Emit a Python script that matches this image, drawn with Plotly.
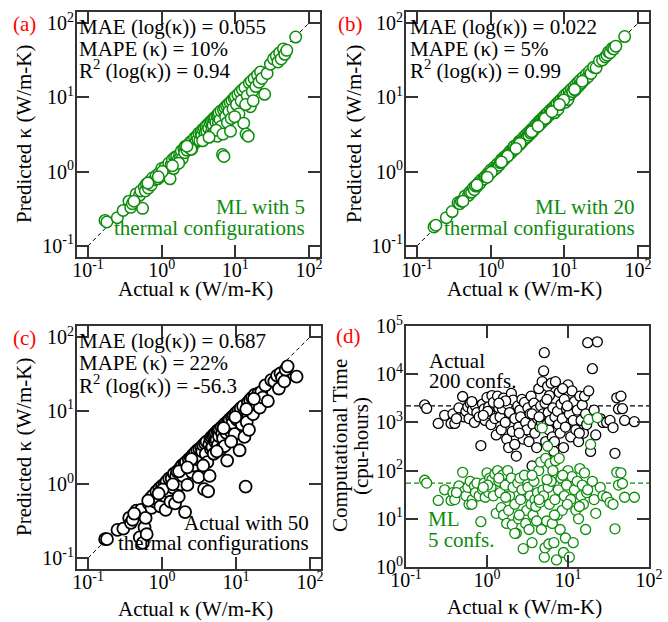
import plotly.graph_objects as go

# ---------------- data ----------------
kappa = [0.17, 0.18, 0.25, 0.30, 0.36, 0.38, 0.40, 0.45, 0.50, 0.52,
         0.55, 0.58, 0.60, 0.62, 0.66, 0.70, 0.72, 0.75, 0.80, 0.84,
         0.88, 0.92, 0.95, 1.00, 1.05, 1.08, 1.12, 1.15, 1.20, 1.25,
         1.30, 1.35, 1.40, 1.45, 1.50, 1.55, 1.60, 1.68, 1.75, 1.80,
         1.85, 1.90, 2.00, 2.05, 2.10, 2.20, 2.30, 2.40, 2.45, 2.55,
         2.60, 2.70, 2.80, 2.90, 3.00, 3.10, 3.20, 3.30, 3.40, 3.50,
         3.60, 3.70, 3.80, 3.90, 4.00, 4.10, 4.20, 4.35, 4.50, 4.60,
         4.70, 4.80, 4.90, 5.00, 5.10, 5.20, 5.30, 5.45, 5.60, 5.70,
         5.80, 5.90, 6.00, 6.20, 6.40, 6.50, 6.70, 6.90, 7.00, 7.20,
         7.40, 7.60, 7.80, 8.00, 8.20, 8.50, 8.80, 9.00, 9.30, 9.60,
         10.0, 10.4, 10.8, 11.2, 11.6, 12.0, 12.5, 13.0, 13.5, 14.0,
         14.5, 15.0, 15.5, 16.0, 16.5, 17.0, 18.0, 19.0, 20.0, 21.0,
         22.0, 23.0, 25.0, 27.0, 30.0, 33.0, 36.0, 38.0, 40.0, 42.0,
         45.0, 47.0, 50.0, 66.0, 0.42, 0.65, 1.02, 1.70, 2.50, 3.60,
         5.50, 6.80, 9.80, 13.8, 17.5, 0.90, 1.40, 2.20, 4.40, 8.60]

pred_ml5 = [0.22, 0.21, 0.24, 0.30, 0.40, 0.33, 0.37, 0.50, 0.48, 0.55,
            0.32, 0.62, 0.55, 0.68, 0.60, 0.75, 0.66, 0.82, 0.78, 0.88,
            0.80, 0.95, 0.85, 1.10, 1.00, 0.95, 1.15, 1.05, 0.90, 1.30,
            0.80, 1.25, 1.45, 1.10, 1.55, 1.35, 1.60, 1.45, 1.70, 1.55,
            1.90, 1.50, 2.05, 1.80, 2.20, 1.95, 2.30, 2.10, 2.50, 2.00,
            2.60, 2.30, 2.85, 2.50, 3.00, 2.70, 3.30, 2.60, 3.40, 3.10,
            3.70, 2.70, 3.80, 3.30, 4.10, 3.50, 4.30, 3.80, 4.60, 3.20,
            4.80, 4.00, 5.00, 4.20, 5.20, 3.40, 5.40, 4.60, 5.70, 3.00,
            5.90, 4.50, 6.20, 5.00, 6.60, 4.10, 1.70, 6.80, 1.60, 7.30,
            5.50, 7.70, 4.60, 8.10, 6.50, 8.60, 5.20, 9.10, 7.00, 9.80,
            10.2, 8.00, 10.9, 6.00, 11.8, 9.00, 12.7, 4.50, 13.6, 3.20,
            10.5, 3.00, 15.6, 7.50, 16.6, 12.0, 18.0, 14.0, 20.0, 16.0,
            22.0, 18.0, 11.0, 21.0, 28.0, 33.0, 36.0, 30.0, 40.0, 33.0,
            45.0, 38.0, 43.0, 65.0, 0.40, 0.70, 1.00, 1.30, 2.00, 2.60,
            3.60, 3.20, 5.50, 8.00, 9.00, 0.85, 1.20, 2.20, 2.90, 3.50]

pred_ml20 = [0.18, 0.19, 0.24, 0.29, 0.38, 0.37, 0.40, 0.47, 0.48, 0.53,
             0.53, 0.60, 0.57, 0.64, 0.64, 0.72, 0.70, 0.78, 0.79, 0.86,
             0.86, 0.95, 0.92, 1.05, 1.02, 1.04, 1.15, 1.10, 1.12, 1.28,
             1.22, 1.32, 1.45, 1.38, 1.55, 1.48, 1.62, 1.60, 1.78, 1.72,
             1.90, 1.80, 2.05, 1.95, 2.20, 2.10, 2.35, 2.25, 2.55, 2.40,
             2.65, 2.55, 2.90, 2.75, 3.10, 2.90, 3.30, 3.10, 3.50, 3.30,
             3.70, 3.45, 3.90, 3.70, 4.15, 3.90, 4.35, 4.10, 4.70, 4.30,
             4.90, 4.50, 5.05, 4.70, 5.30, 4.85, 5.50, 5.10, 5.80, 5.20,
             6.00, 5.50, 6.20, 5.80, 6.70, 6.00, 6.50, 7.10, 6.60, 7.40,
             6.20, 7.80, 7.30, 8.30, 6.90, 8.80, 8.10, 9.30, 8.50, 9.90,
             10.5, 8.60, 11.2, 9.30, 12.0, 11.0, 12.9, 11.9, 13.9, 12.5,
             15.0, 13.6, 16.0, 14.5, 17.1, 15.5, 18.5, 17.5, 20.5, 19.0,
             22.5, 21.0, 25.5, 25.0, 31.0, 32.0, 35.0, 37.0, 41.0, 40.0,
             46.0, 45.0, 49.0, 66.0, 0.40, 0.66, 0.98, 1.62, 2.40, 3.45,
             5.20, 6.40, 9.20, 12.8, 16.5, 0.84, 1.35, 2.05, 4.10, 8.00]

actual_50 = [0.18, 0.18, 0.24, 0.25, 0.35, 0.30, 0.33, 0.44, 0.19, 0.45,
             0.16, 0.26, 0.35, 0.21, 0.55, 0.65, 0.48, 0.70, 0.58, 0.80,
             0.62, 0.88, 0.50, 0.95, 0.70, 1.00, 0.45, 1.10, 0.80, 1.20,
             0.58, 1.20, 0.90, 1.40, 0.55, 1.30, 1.50, 0.68, 1.65, 1.00,
             1.80, 1.30, 1.90, 0.42, 2.00, 0.98, 2.20, 1.60, 2.30, 1.45,
             2.50, 1.80, 2.70, 2.20, 2.90, 1.25, 3.00, 2.40, 3.20, 2.80,
             3.40, 0.86, 3.60, 2.60, 3.80, 2.00, 0.80, 3.50, 4.20, 3.00,
             4.40, 3.20, 4.60, 2.60, 4.80, 3.80, 5.00, 4.00, 5.30, 3.40,
             5.40, 4.50, 5.60, 3.00, 6.00, 4.90, 4.20, 6.40, 3.30, 6.70,
             5.00, 2.10, 7.20, 6.00, 7.60, 5.20, 8.20, 6.80, 8.60, 4.80,
             9.30, 7.50, 10.0, 2.90, 10.8, 6.50, 11.5, 4.40, 0.93, 7.00,
             13.0, 5.50, 14.0, 10.0, 15.0, 9.00, 16.5, 12.0, 17.0, 11.0,
             18.0, 15.0, 22.0, 13.5, 26.0, 25.0, 30.0, 20.0, 32.0, 28.0,
             25.0, 36.0, 40.0, 29.0, 0.40, 0.60, 0.85, 1.50, 2.20, 1.80,
             2.80, 5.80, 8.20, 10.5, 14.5, 0.75, 1.00, 1.70, 1.30, 3.80]

time_actual = [2300, 1950, 950, 1400, 950, 1500, 950, 2000, 3450, 1300,
               1700, 2100, 1200, 2500, 1800, 1000, 2200, 1600, 1300, 330,
               2400, 1900, 1100, 3300, 2100, 1500, 900, 3600, 2600, 1200,
               550, 3500, 2000, 1300, 700, 1900, 3200, 1000, 450, 2400,
               300, 1600, 4000, 650, 2900, 1200, 200, 2200, 800, 1800,
               1300, 3000, 450, 2600, 1000, 700, 2000, 400, 1500, 3500,
               125, 900, 2500, 600, 1800, 300, 1200, 5000, 800, 2200,
               1000, 7000, 1500, 11700, 28000, 2500, 400, 900, 5600, 1600,
               700, 3600, 1100, 6500, 500, 2000, 250, 1300, 7000, 75,
               1700, 900, 4200, 600, 2400, 1200, 300, 3000, 800, 1900,
               6000, 1500, 500, 4500, 1100, 2700, 700, 1800, 400, 3500,
               1100, 2300, 600, 3500, 1500, 900, 4500, 250, 13000, 1800,
               550, 47000, 1200, 1000, 1000, 1100, 780, 228, 3240, 1900,
               3500, 1930, 1100, 1035, 1200, 2700, 1700, 2800, 600, 1500,
               3000, 400, 2200, 600, 45000, 1400, 2500, 350, 1300, 5000]

time_ml = [63, 55, 24, 40, 24, 35, 25, 48, 92, 37,
           30, 45, 20, 60, 25, 48, 35, 55, 30, 8.7,
           40, 55, 28, 90, 35, 70, 45, 65, 30, 85,
           13, 100, 60, 35, 17, 80, 12, 50, 8, 100,
           15, 30, 70, 7.5, 45, 20, 5, 55, 10, 70,
           25, 40, 2.4, 80, 8, 15, 45, 6, 30, 20,
           3.2, 12, 60, 25, 18, 9, 35, 100, 22, 150,
           6, 770, 40, 30, 1.6, 2.5, 180, 9, 320, 45,
           3, 20, 140, 60, 8, 100, 3.2, 25, 160, 1.4,
           12, 40, 180, 6, 70, 15, 2, 30, 4, 50,
           100, 1.6, 25, 75, 3.2, 40, 15, 60, 10, 110,
           30, 50, 20, 90, 6, 35, 1150, 350, 60, 25,
           13, 1260, 45, 30, 28, 22, 20, 6.2, 92, 50,
           90, 54, 28, 28, 35, 20, 50, 28, 12, 80,
           65, 12, 20, 18, 40, 45, 70, 5, 25, 80]

mean_time_actual = 2200
mean_time_ml = 55
parity = [0.1, 100]
kappa_span = [0.1, 100]

k_ticks = [0.1, 1, 10, 100]
k_ticktext = ["10<sup>-1</sup>", "10<sup>0</sup>", "10<sup>1</sup>", "10<sup>2</sup>"]
t_ticks = [1, 10, 100, 1000, 10000, 100000]
t_ticktext = ["10<sup>0</sup>", "10<sup>1</sup>", "10<sup>2</sup>",
              "10<sup>3</sup>", "10<sup>4</sup>", "10<sup>5</sup>"]

# ---------------- style ----------------
W, H = 668, 622
FONT = "Liberation Serif"
GREEN = "#0c8c0c"
AX = "#333333"
TS = 21


def px(x):
    return x / W


def py(y):
    return 1 - y / H


fig = go.Figure()


def add(tr, n):
    s = "" if n == 1 else str(n)
    tr.update(xaxis="x" + s, yaxis="y" + s, showlegend=False, hoverinfo="skip")
    fig.add_trace(tr)


# panel a
add(go.Scatter(x=parity, y=parity, mode="lines",
               line=dict(color="black", width=1, dash="4px,3px")), 1)
add(go.Scatter(x=kappa, y=pred_ml5, mode="markers",
               marker=dict(symbol="circle", size=11.5, color="white",
                           line=dict(color=GREEN, width=1.5))), 1)
# panel b
add(go.Scatter(x=parity, y=parity, mode="lines",
               line=dict(color="black", width=1, dash="4px,3px")), 2)
add(go.Scatter(x=kappa, y=pred_ml20, mode="markers",
               marker=dict(symbol="circle", size=11.5, color="white",
                           line=dict(color=GREEN, width=1.5))), 2)
# panel c
add(go.Scatter(x=parity, y=parity, mode="lines",
               line=dict(color="black", width=1, dash="4px,3px")), 3)
add(go.Scatter(x=kappa, y=actual_50, mode="markers",
               marker=dict(symbol="circle", size=12, color="white",
                           line=dict(color="black", width=1.8))), 3)
# panel d
add(go.Scatter(x=kappa_span, y=[mean_time_actual] * 2, mode="lines",
               line=dict(color="black", width=1.2, dash="5px,3px")), 4)
add(go.Scatter(x=kappa_span, y=[mean_time_ml] * 2, mode="lines",
               line=dict(color=GREEN, width=1.2, dash="5px,3px")), 4)
add(go.Scatter(x=kappa, y=time_actual, mode="markers",
               marker=dict(symbol="circle", size=10, color="white",
                           line=dict(color="black", width=1.3))), 4)
add(go.Scatter(x=kappa, y=time_ml, mode="markers",
               marker=dict(symbol="circle", size=10, color="white",
                           line=dict(color=GREEN, width=1.3))), 4)


def axis(domain, rng, tv, tt, anchor, standoff):
    return dict(domain=domain, type="log", range=rng, tickvals=tv, ticktext=tt,
                ticks="inside", ticklen=12, tickwidth=1.6, tickcolor=AX,
                showline=True, linecolor=AX, linewidth=2, mirror="allticks",
                showgrid=False, zeroline=False, anchor=anchor, automargin=False,
                ticklabelstandoff=standoff,
                tickfont=dict(family=FONT, size=20, color="black"))


xa_dom = [px(77), px(320)]
xb_dom = [px(406), px(649)]
ytop_dom = [py(257), py(12)]
ybot_dom = [py(569), py(326)]
R = [-1.15, 2.15]
XS, YS = -6, -3

fig.update_layout(
    width=W, height=H, margin=dict(l=0, r=0, t=0, b=0, pad=0, autoexpand=False),
    paper_bgcolor="white", plot_bgcolor="white",
    xaxis=axis(xa_dom, R, k_ticks, k_ticktext, "y", XS),
    yaxis=axis(ytop_dom, R, k_ticks, k_ticktext, "x", YS),
    xaxis2=axis(xb_dom, R, k_ticks, k_ticktext, "y2", XS),
    yaxis2=axis(ytop_dom, R, k_ticks, k_ticktext, "x2", YS),
    xaxis3=axis([px(77), px(321)], R, k_ticks, k_ticktext, "y3", XS),
    yaxis3=axis(ybot_dom, R, k_ticks, k_ticktext, "x3", YS),
    xaxis4=axis(xb_dom, [-1, 2], k_ticks, k_ticktext, "y4", XS),
    yaxis4=axis([py(567), py(326)], [0, 5], t_ticks, t_ticktext, "x4", YS),
)

anns = []


def txt(x, y, s, color="black", xanchor="left", size=TS, angle=0):
    anns.append(dict(x=px(x), y=py(y), xref="paper", yref="paper", text=s,
                     showarrow=False, xanchor=xanchor, yanchor="middle",
                     textangle=angle,
                     font=dict(family=FONT, size=size, color=color)))


# panel labels
txt(24, 24, "(a)", "red", "center")
txt(350, 24, "(b)", "red", "center")
txt(24, 338, "(c)", "red", "center")
txt(348, 336, "(d)", "red", "center")

# axis titles
for cx, cy in [(195, 289), (524, 289), (195, 609), (524, 607)]:
    txt(cx, cy, "Actual κ (W/m-K)", xanchor="center")
for cx, cy in [(24, 134), (354, 134), (24, 447)]:
    txt(cx, cy, "Predicted κ (W/m-K)", xanchor="center", angle=-90)
txt(340, 446, "Computational Time", xanchor="center", angle=-90)
txt(361, 446, "(cpu-hours)", xanchor="center", angle=-90)

# statistics
for x0, y0, lines in [
    (77, 27, ["MAE (log(κ)) = 0.055", "MAPE (κ) = 10%", "R<sup>2</sup> (log(κ)) = 0.94"]),
    (408, 27, ["MAE (log(κ)) = 0.022", "MAPE (κ) = 5%", "R<sup>2</sup> (log(κ)) = 0.99"]),
    (77, 341, ["MAE (log(κ)) = 0.687", "MAPE (κ) = 22%", "R<sup>2</sup> (log(κ)) = -56.3"]),
]:
    for i, s in enumerate(lines):
        txt(x0, y0 + 21.5 * i, s)

txt(307, 207, "ML with 5", GREEN, "right")
txt(307, 228, "thermal configurations", GREEN, "right")
txt(637, 207, "ML with 20", GREEN, "right")
txt(637, 228, "thermal configurations", GREEN, "right")
txt(311, 523, "Actual with 50", "black", "right")
txt(311, 543, "thermal configurations", "black", "right")
txt(427, 361, "Actual", "black")
txt(427, 381, "200 confs.", "black")
txt(426, 519, "ML", GREEN)
txt(426, 540, "5 confs.", GREEN)

fig.update_layout(annotations=anns)
fig.write_html("out.html", config={"displayModeBar": False},
               post_script="document.body.style.margin='0';document.body.style.overflow='hidden';")
